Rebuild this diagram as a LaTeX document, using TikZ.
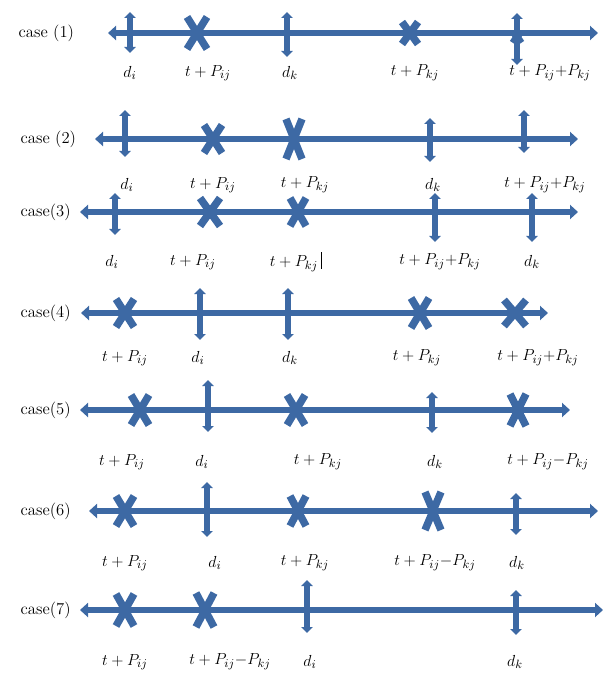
\documentclass[tikz,border=0pt]{standalone}
\usepackage{amsmath}
\usetikzlibrary{arrows.meta}
\definecolor{caseblue}{HTML}{3D69A4}
\tikzset{
  caseaxis/.style={caseblue,line width=5pt,{Triangle[length=6pt,width=10.5pt]}-{Triangle[length=6pt,width=10.5pt]}},
  dtick/.style={caseblue,line width=4pt,{Triangle[length=4.5pt,width=8.5pt]}-{Triangle[length=4.5pt,width=8.5pt]}},
  xstroke/.style={caseblue,line width=5.6pt},
  lbl/.style={font=\fontsize{12.5}{14}\selectfont},
}
% cross mark: x, y, half width, half height
\newcommand{\xmark}[4]{\draw[xstroke] (#1-#3,#2-#4) -- (#1+#3,#2+#4) (#1-#3,#2+#4) -- (#1+#3,#2-#4);}

\begin{document}
\begin{tikzpicture}[x=0.75pt,y=-0.75pt]
\useasboundingbox (0,0) rectangle (603,673);

% case (1)
\coordinate (a1l) at (108,33); \coordinate (a1r) at (598,33);
\draw[caseaxis] (a1l) -- (a1r);
\foreach \x/\t/\b in {130/12/53,287/12/57,517/13/65}
  \draw[dtick] (\x,\t) -- (\x,\b);
\foreach \x/\w/\h in {197/10/16,410/8/11}
  \xmark{\x}{33}{\w}{\h};
\xmark{517}{37}{4}{6}
\node[lbl,anchor=west] (c1) at (14,33) {case (1)};
\foreach \x/\t [count=\n] in {130/{$d_i$},208/{$t+P_{ij}$},290/{$d_k$},415/{$t+P_{kj}$},550/{$t+P_{ij}{+}P_{kj}$}}
  \node[lbl] (l1\n) at (\x,73) {\t};

% case (2)
\coordinate (a2l) at (95,139); \coordinate (a2r) at (578,139);
\draw[caseaxis] (a2l) -- (a2r);
\foreach \x/\t/\b in {125/110/157,430/118/162,524/110/153}
  \draw[dtick] (\x,\t) -- (\x,\b);
\foreach \x/\w/\h in {213/9/14,294/8/20}
  \xmark{\x}{139}{\w}{\h};
\node[lbl,anchor=west] (c2) at (16,139) {case (2)};
\foreach \x/\t [count=\n] in {127/{$d_i$},213/{$t+P_{ij}$},305/{$t+P_{kj}$},433/{$d_k$},545/{$t+P_{ij}{+}P_{kj}$}}
  \node[lbl] (l2\n) at (\x,185) {\t};

% case (3)
\coordinate (a3l) at (80,212); \coordinate (a3r) at (578,212);
\draw[caseaxis] (a3l) -- (a3r);
\foreach \x/\t/\b in {115/193/235,435/193/242,532/193/242}
  \draw[dtick] (\x,\t) -- (\x,\b);
\foreach \x/\w/\h in {210/10/14,298/8/14}
  \xmark{\x}{212}{\w}{\h};
\node[lbl,anchor=west] (c3) at (16,212) {case(3)};
\foreach \x/\t [count=\n] in {112/{$d_i$},193/{$t+P_{ij}$},296/{$t+P_{kj}$\,\rule[-0.3ex]{0.9pt}{2.3ex}},440/{$t+P_{ij}{+}P_{kj}$},532/{$d_k$}}
  \node[lbl] (l3\n) at (\x,262) {\t};

% case (4)
\coordinate (a4l) at (81,313); \coordinate (a4r) at (548,313);
\draw[caseaxis] (a4l) -- (a4r);
\foreach \x/\t/\b in {200/288/340,288/288/340}
  \draw[dtick] (\x,\t) -- (\x,\b);
\foreach \x/\w/\h in {125/9/14,420/9/15,515/11/13}
  \xmark{\x}{313}{\w}{\h};
\node[lbl,anchor=west] (c4) at (16,313) {case(4)};
\foreach \x/\t [count=\n] in {125/{$t+P_{ij}$},198/{$d_i$},290/{$d_k$},417/{$t+P_{kj}$},538/{$t+P_{ij}{+}P_{kj}$}}
  \node[lbl] (l4\n) at (\x,358) {\t};

% case (5)
\coordinate (a5l) at (80,410); \coordinate (a5r) at (570,410);
\draw[caseaxis] (a5l) -- (a5r);
\foreach \x/\t/\b in {208/380/432,432/392/433}
  \draw[dtick] (\x,\t) -- (\x,\b);
\foreach \x/\w/\h in {140/9/15,296/9/15,518/8/16}
  \xmark{\x}{410}{\w}{\h};
\node[lbl,anchor=west] (c5) at (16,410) {case(5)};
\foreach \x/\t [count=\n] in {122/{$t+P_{ij}$},202/{$d_i$},318/{$t+P_{kj}$},435/{$d_k$},548/{$t+P_{ij}{-}P_{kj}$}}
  \node[lbl] (l5\n) at (\x,462) {\t};

% case (6)
\coordinate (a6l) at (89,511); \coordinate (a6r) at (598,511);
\draw[caseaxis] (a6l) -- (a6r);
\foreach \x/\t/\b in {207/482/537,516/493/535}
  \draw[dtick] (\x,\t) -- (\x,\b);
\foreach \x/\w/\h in {125/9/15,298/8/15,433/8/19}
  \xmark{\x}{511}{\w}{\h};
\node[lbl,anchor=west] (c6) at (16,511) {case(6)};
\foreach \x/\t [count=\n] in {125/{$t+P_{ij}$},215/{$d_i$},305/{$t+P_{kj}$},435/{$t+P_{ij}{-}P_{kj}$},517/{$d_k$}}
  \node[lbl] (l6\n) at (\x,563) {\t};

% case (7)
\coordinate (a7l) at (80,610); \coordinate (a7r) at (603,610);
\draw[caseaxis] (a7l) -- (a7r);
\foreach \x/\t/\b in {307/580/633,516/590/635}
  \draw[dtick] (\x,\t) -- (\x,\b);
\foreach \x/\w/\h in {125/9/16,205/9/17}
  \xmark{\x}{610}{\w}{\h};
\node[lbl,anchor=west] (c7) at (16,610) {case(7)};
\foreach \x/\t [count=\n] in {125/{$t+P_{ij}$},230/{$t+P_{ij}{-}P_{kj}$},310/{$d_i$},515/{$d_k$}}
  \node[lbl] (l7\n) at (\x,662) {\t};
\end{tikzpicture}
\end{document}
